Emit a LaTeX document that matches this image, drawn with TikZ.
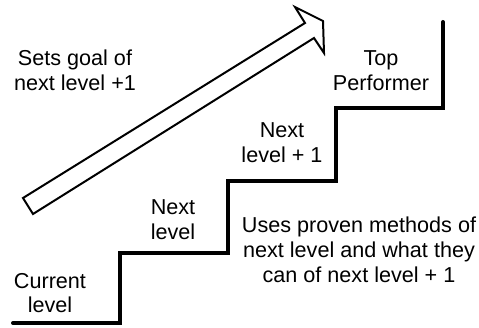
\documentclass[tikz,border=0pt]{standalone}
\usepackage{fontspec}
\setmainfont{Liberation Sans}
\begin{document}
\begin{tikzpicture}[x=0.75pt,y=-0.75pt,
  lbl/.style={align=center, inner sep=0pt, font=\fontsize{16.2}{18.6}\selectfont},
  stair/.style={line width=3pt, line cap=round, line join=miter},
  bigarrow/.style={line width=1.5pt, line join=miter, fill=white}]
\useasboundingbox (0,0) rectangle (479,328);
% staircase corners
\coordinate (s0) at (13,323);
\coordinate (s1) at (120,323);
\coordinate (s2) at (120,253);
\coordinate (s3) at (228,253);
\coordinate (s4) at (228,181);
\coordinate (s5) at (336,181);
\coordinate (s6) at (336,108);
\coordinate (s7) at (443,108);
\coordinate (s8) at (443,22);
\draw[stair] (s0) -- (s1) -- (s2) -- (s3) -- (s4) -- (s5) -- (s6) -- (s7) -- (s8);
% hollow arrow
\coordinate (a1) at (23,198);
\coordinate (a2) at (305,23);
\coordinate (a3) at (295,7);
\coordinate (a4) at (323,21);
\coordinate (a5) at (324,53);
\coordinate (a6) at (314,38);
\coordinate (a7) at (33,214);
\draw[bigarrow] (a1) -- (a2) -- (a3) -- (a4) -- (a5) -- (a6) -- (a7) -- cycle;
% labels
\node[lbl] (goal) at (75,70) {Sets goal of\\next level +1};
\node[lbl] (top) at (381,71) {Top\\Performer};
\node[lbl] (nl1) at (282,143) {Next\\level + 1};
\node[lbl] (nl) at (173,220) {Next\\level};
\node[lbl] (uses) at (359,250) {Uses proven methods of\\next level and what they\\can of next level + 1};
\node[lbl] (cur) at (50,293) {Current\\level};
\end{tikzpicture}
\end{document}
